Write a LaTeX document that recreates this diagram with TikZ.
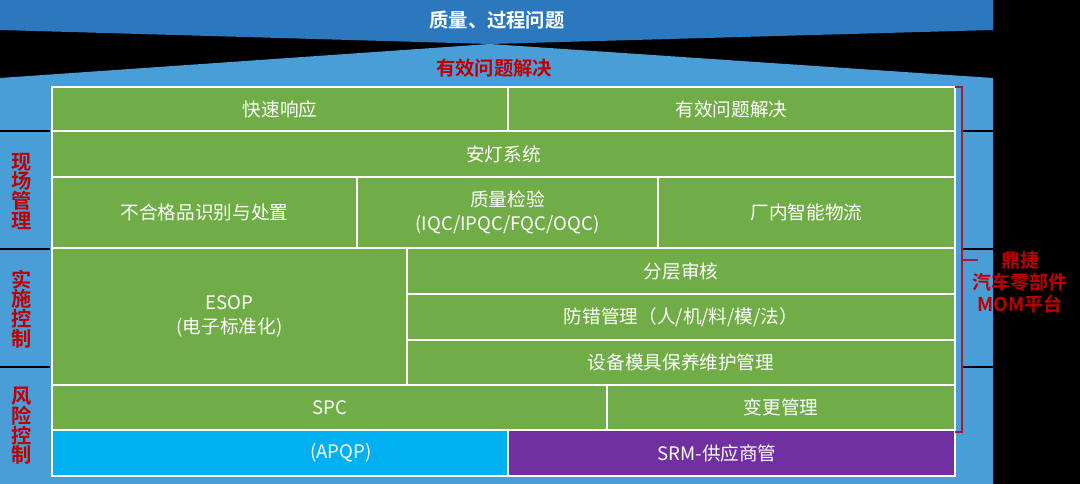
\documentclass[tikz,border=0pt]{standalone}
\usepackage{fontspec}
\setmainfont{Noto Sans CJK SC}[BoldFont={Noto Sans CJK SC Bold}]
\usepackage{xcolor}
\usetikzlibrary{positioning}

\definecolor{roofblue}{HTML}{2B78BE}
\definecolor{wallblue}{HTML}{4A9ED8}
\definecolor{cellgreen}{HTML}{70AD47}
\definecolor{cellcyan}{HTML}{00B0F0}
\definecolor{cellpurple}{HTML}{7030A0}
\definecolor{markred}{HTML}{C00000}
\definecolor{bracketred}{HTML}{A8182E}

\tikzset{
	cell/.style={draw=white, line width=1.1pt, fill=cellgreen, text=white, align=center, inner sep=0pt,
		font=\fontsize{10.6}{13.5}\selectfont},
	sidetag/.style={text=markred, align=center, inner sep=0pt, font=\bfseries\fontsize{11.5}{11.2}\selectfont},
	celltext/.style={text=white, inner sep=0pt, font=\fontsize{10.6}{13.5}\selectfont}
}

\begin{document}
\begin{tikzpicture}[x=0.02cm, y=-0.02cm]
	\fill[black] (0,0) rectangle (1080,484);
	\useasboundingbox (0,0) rectangle (1080,484);
	% roof and wall
	\fill[roofblue] (0,0) -- (993,0) -- (993,30) -- (490,44) -- (0,30) -- cycle;
	\fill[wallblue] (0,78) -- (490,44) -- (993,78) -- (993,484) -- (0,484) -- cycle;
	\node[text=white, font=\bfseries\fontsize{11}{13}\selectfont] (roof) at (497,20) {质量、过程问题};
	\node[text=markred, font=\bfseries\fontsize{11}{13}\selectfont] (solve) at (494,68) {有效问题解决};

	% rows of cells
	\node[cell, minimum width=9.12cm, minimum height=0.88cm] (quick) at (280,109) {快速响应};
	\node[cell, minimum width=8.94cm, minimum height=0.88cm] (effect) at (731.5,109) {有效问题解决};
	\node[cell, minimum width=18.06cm, minimum height=0.92cm] (andon) at (503.5,154) {安灯系统};
	\node[cell, minimum width=6.1cm, minimum height=1.42cm] (ncr) at (204.5,212.5) {不合格品识别与处置};
	\node[cell, minimum width=6.02cm, minimum height=1.42cm] (qc) at (507.5,212.5) {质量检验\\(IQC/IPQC/FQC/OQC)};
	\node[cell, minimum width=5.94cm, minimum height=1.42cm] (logis) at (806.5,212.5) {厂内智能物流};
	\node[cell, minimum width=7.1cm, minimum height=2.74cm] (esop) at (229.5,316.5) {ESOP\\(电子标准化)};
	\node[cell, minimum width=10.96cm, minimum height=0.92cm] (audit) at (681,271) {分层审核};
	\node[cell, minimum width=10.96cm, minimum height=0.92cm] (poka) at (681,317) {防错管理（人/机/料/模/法）};
	\node[cell, minimum width=10.96cm, minimum height=0.9cm] (tpm) at (681,362.5) {设备模具保养维护管理};
	\node[cell, minimum width=11.1cm, minimum height=0.9cm] (spc) at (329.5,407.5) {SPC};
	\node[cell, minimum width=6.96cm, minimum height=0.9cm] (change) at (781,407.5) {变更管理};
	\node[cell, fill=cellcyan, minimum width=9.12cm, minimum height=0.92cm] (apqp) at (280,453) {};
	\node[cell, fill=cellpurple, minimum width=8.94cm, minimum height=0.92cm] (srm) at (731.5,453) {};
	\node[celltext] (apqptext) at (341,453) {(APQP)};
	\node[celltext] (srmtext) at (717,453) {SRM-供应商管};

	% left tags
	\draw[black, line width=0.9pt] (0,131) -- (50,131);
	\draw[black, line width=0.9pt] (0,249) -- (50,249);
	\draw[black, line width=0.9pt] (0,367) -- (50,367);
	\node[sidetag] (site) at (22,191) {现\\场\\管\\理};
	\node[sidetag] (exec) at (22,309) {实\\施\\控\\制};
	\node[sidetag] (risk) at (22,426) {风\\险\\控\\制};

	% right bracket
	\draw[black, line width=0.9pt] (962,131) -- (993,131);
	\draw[black, line width=0.9pt] (962,249) -- (993,249);
	\draw[black, line width=0.9pt] (962,367) -- (993,367);
	\draw[bracketred, line width=1.2pt] (955,87) -- (962,87) -- (962,432) -- (955,432);
	\draw[bracketred, line width=1.2pt] (962,260) -- (978,260);
	\node[sidetag, font=\bfseries\fontsize{10.8}{12.5}\selectfont] (mom) at (1020,282) {鼎捷\\汽车零部件\\MOM平台};
\end{tikzpicture}
\end{document}
